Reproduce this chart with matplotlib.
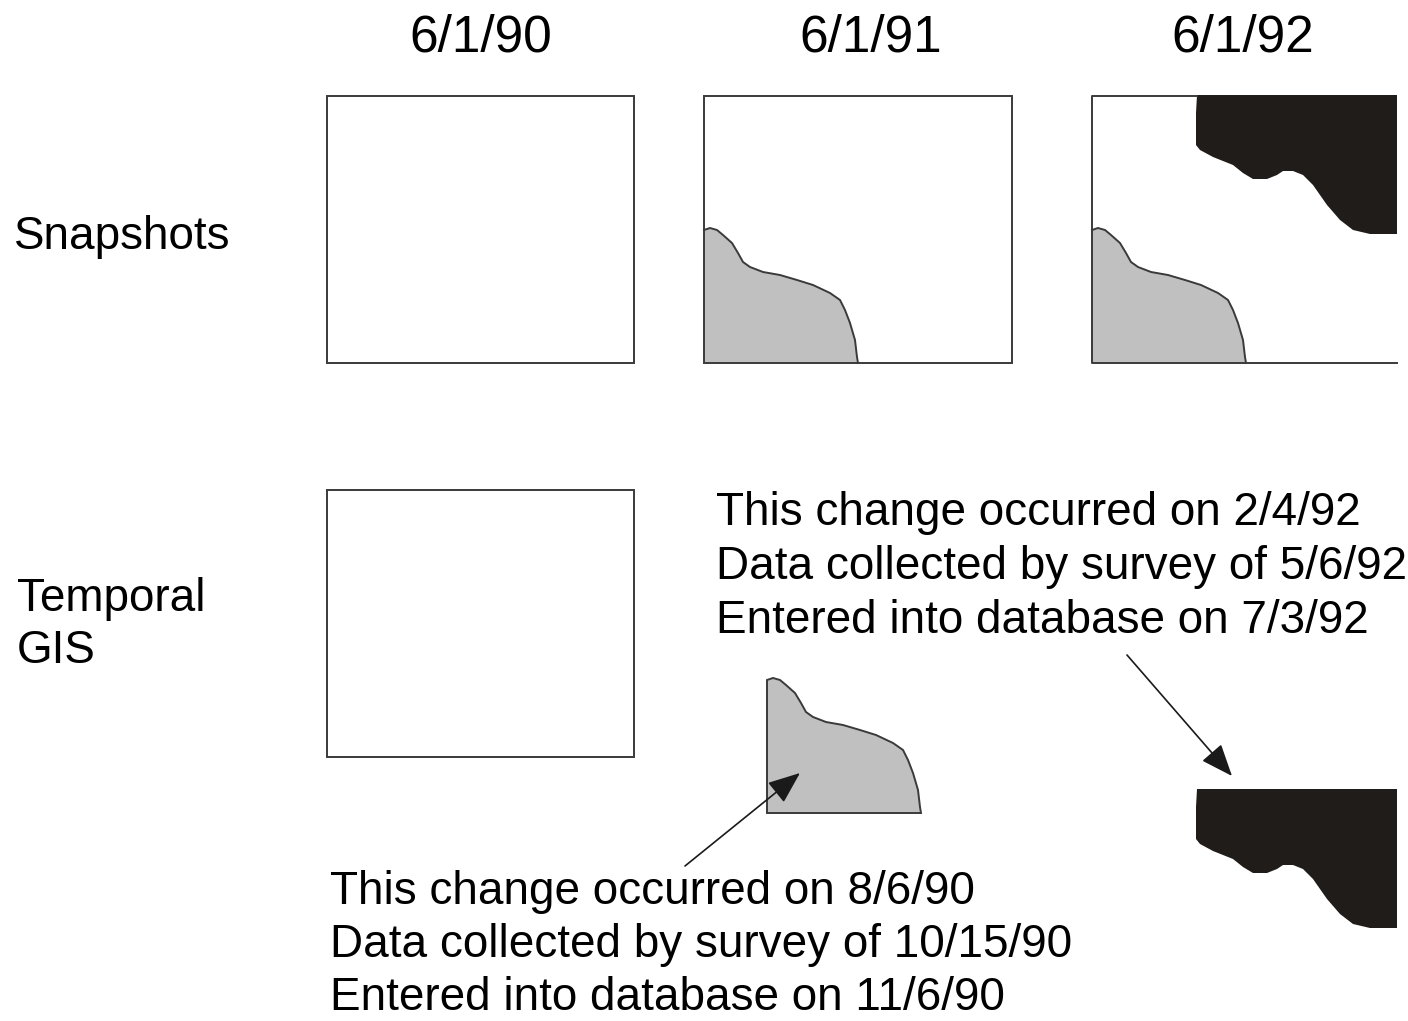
"""Snapshots vs temporal GIS diagram"""
import matplotlib
matplotlib.use('Agg')
import matplotlib.pyplot as plt
from matplotlib.patches import Polygon, Rectangle

plt.rcParams['font.family'] = ['Liberation Sans', 'DejaVu Sans']

# column headers
dates = ['6/1/90', '6/1/91', '6/1/92']
row_labels = ['Snapshots', 'Temporal\nGIS']

# grey change (8/6/90), outline relative to box bottom-left corner
grey_dx = [0, 6, 13, 19, 28, 34, 39, 46, 59, 76, 93, 109, 126, 136, 141, 146, 151, 153, 154]
grey_dy = [-133, -135, -133, -128, -120, -110, -101, -96, -91, -88, -83, -78, -70, -63, -53, -40, -23, -6, 0]

# black change (2/4/92), outline relative to box top-right corner
black_dx = [-200, -201, -201, -197, -184, -164, -154, -144, -130, -120, -114, -104, -94, -84, -70, -57, -44, -27, 0]
black_dy = [0, 18, 50, 55, 62, 70, 78, 84, 84, 80, 76, 76, 80, 90, 110, 125, 135, 139, 139]

notes_1990 = ['This change occurred on 8/6/90',
              'Data collected by survey of 10/15/90',
              'Entered into database on 11/6/90']
notes_1992 = ['This change occurred on 2/4/92',
              'Data collected by survey of 5/6/92',
              'Entered into database on 7/3/92']

EDGE = '#3a3a3a'
GREY = '#c0c0c0'
BLACK = '#201c1a'
FS = 33


def grey_patch(x0, y0, edge=True):
    pts = [(x0 + dx, y0 + dy) for dx, dy in zip(grey_dx, grey_dy)] + [(x0, y0)]
    return Polygon(pts, closed=True, facecolor=GREY,
                   edgecolor=EDGE if edge else 'none', linewidth=1.4, zorder=2)


def grey_curve(ax, x0, y0):
    ax.plot([x0 + dx for dx in grey_dx], [y0 + dy for dy in grey_dy],
            color=EDGE, linewidth=1.4, zorder=3)


def black_patch(x1, y0):
    pts = [(x1 + dx, y0 + dy) for dx, dy in zip(black_dx, black_dy)] + [(x1, y0)]
    return Polygon(pts, closed=True, facecolor=BLACK, edgecolor='none', zorder=2)


fig = plt.figure(figsize=(14.08, 10.21), dpi=100)
ax = fig.add_axes([0, 0, 1, 1])
ax.set_xlim(0, 1408)
ax.set_ylim(1021, 0)
ax.axis('off')

# headers
for d, xc in zip(dates, [481, 871, 1243]):
    ax.text(xc, 51, d, fontsize=37, ha='center', va='baseline')

ax.text(14, 249, row_labels[0], fontsize=FS, ha='left', va='baseline')
for i, line in enumerate(row_labels[1].split('\n')):
    ax.text(17, 611 + 52 * i, line, fontsize=FS, ha='left', va='baseline')

# snapshot boxes
ax.add_patch(Rectangle((327, 96), 307, 267, fill=False, edgecolor=EDGE, linewidth=1.4))
ax.add_patch(Rectangle((704, 96), 308, 267, fill=False, edgecolor=EDGE, linewidth=1.4, zorder=4))
ax.add_patch(grey_patch(704, 363, edge=False))
grey_curve(ax, 704, 363)

# third snapshot: open on the right, black area in the corner
ax.plot([1197, 1092, 1092, 1397], [96, 96, 363, 363], color=EDGE, linewidth=1.4, zorder=4)
ax.add_patch(grey_patch(1092, 363, edge=False))
grey_curve(ax, 1092, 363)
ax.add_patch(black_patch(1397, 95))

# temporal GIS
ax.add_patch(Rectangle((327, 490), 307, 267, fill=False, edgecolor=EDGE, linewidth=1.4))
ax.add_patch(grey_patch(767, 813))
ax.add_patch(black_patch(1397, 789))

arrow = dict(arrowstyle='-|>,head_length=0.5,head_width=0.2', mutation_scale=40,
             color='#1a1a1a', linewidth=1.2, shrinkA=0, shrinkB=0)
ax.annotate('', xy=(800, 773), xytext=(685, 866), arrowprops=arrow, zorder=5)
ax.annotate('', xy=(1232, 776), xytext=(1127, 655), arrowprops=arrow, zorder=5)

for i, line in enumerate(notes_1992):
    ax.text(716, 525 + 54 * i, line, fontsize=FS, ha='left', va='baseline')
for i, line in enumerate(notes_1990):
    ax.text(330, 904 + 53 * i, line, fontsize=FS, ha='left', va='baseline')

fig.savefig('out.png', dpi=100, facecolor='white')
plt.close(fig)
